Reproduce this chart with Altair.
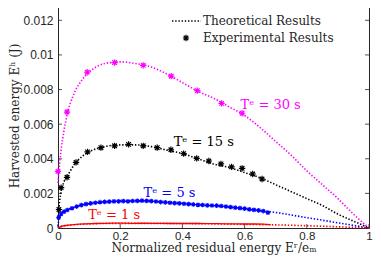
import altair as alt
import pandas as pd

# ---------------- data ----------------
# Theoretical curves (x = normalized residual energy, y = harvested energy in J)
th30_x = [0.0, 0.005, 0.01, 0.02, 0.03, 0.05, 0.075, 0.1, 0.15, 0.2, 0.25, 0.3, 0.35, 0.4, 0.45, 0.5, 0.55, 0.6, 0.65, 0.7, 0.75, 0.8, 0.85, 0.9, 0.95, 1.0]
th30_y = [0.0026, 0.0037, 0.0045, 0.0057, 0.0066, 0.0077, 0.0085, 0.0090, 0.0095, 0.0096, 0.0095, 0.0093, 0.0089, 0.0084, 0.0079, 0.0075, 0.0070, 0.0065, 0.0058, 0.0050, 0.0042, 0.0033, 0.0025, 0.0017, 0.0008, 0.0]

th15_x = [0.0, 0.005, 0.01, 0.02, 0.03, 0.05, 0.075, 0.1, 0.15, 0.2, 0.25, 0.3, 0.35, 0.4, 0.45, 0.5, 0.55, 0.6, 0.65, 0.7, 0.75, 0.8, 0.85, 0.9, 0.95, 1.0]
th15_y = [0.0005, 0.0015, 0.0021, 0.0027, 0.0030, 0.0036, 0.0041, 0.0044, 0.0047, 0.0048, 0.0048, 0.0047, 0.0045, 0.0043, 0.0040, 0.0037, 0.0035, 0.0032, 0.0029, 0.0025, 0.0021, 0.0017, 0.0013, 0.0008, 0.0004, 0.0]

th5_x = [0.0, 0.002, 0.005, 0.01, 0.02, 0.03, 0.05, 0.075, 0.1, 0.15, 0.2, 0.25, 0.3, 0.35, 0.4, 0.45, 0.5, 0.55, 0.6, 0.65, 0.7, 0.75, 0.8, 0.85, 0.9, 0.95, 1.0]
th5_y = [0.0001, 0.0004, 0.0006, 0.0008, 0.00095, 0.00105, 0.0012, 0.00133, 0.0014, 0.0015, 0.00155, 0.00157, 0.00155, 0.0015, 0.00143, 0.00135, 0.00128, 0.0012, 0.0011, 0.0010, 0.0009, 0.00075, 0.0006, 0.00045, 0.0003, 0.00015, 0.0]

th1_x = [0.0, 0.01, 0.03, 0.06, 0.1, 0.2, 0.3, 0.4, 0.5, 0.6, 0.7, 0.8, 0.9, 1.0]
th1_y = [0.0, 0.0001, 0.00015, 0.0002, 0.00024, 0.00027, 0.00027, 0.00026, 0.00024, 0.00021, 0.00018, 0.00013, 0.00007, 0.0]

# Experimental results
ex30_x = [0.0, 0.029, 0.094, 0.182, 0.274, 0.364, 0.448, 0.526, 0.592]
ex30_y = [0.00327, 0.0067, 0.0090, 0.00956, 0.0094, 0.00877, 0.00794, 0.0072, 0.00663]

ex15_x = [0.003, 0.01, 0.029, 0.058, 0.095, 0.138, 0.182, 0.227, 0.274, 0.319, 0.363, 0.404, 0.446, 0.485, 0.524, 0.558, 0.592, 0.626, 0.656]
ex15_y = [0.00107, 0.00233, 0.00293, 0.00379, 0.0044, 0.00464, 0.00475, 0.00483, 0.00475, 0.00464, 0.00452, 0.0043, 0.00402, 0.00387, 0.0037, 0.00353, 0.00345, 0.00312, 0.00283]

ex5_x = [0.002, 0.01, 0.02, 0.03, 0.045, 0.06, 0.075, 0.09, 0.105, 0.12, 0.135, 0.15, 0.165, 0.18, 0.195, 0.21, 0.225, 0.24, 0.255, 0.27, 0.285, 0.3, 0.315, 0.33, 0.345, 0.36, 0.375, 0.39, 0.405, 0.42, 0.435, 0.45, 0.465, 0.48, 0.495, 0.51, 0.525, 0.54, 0.555, 0.57, 0.585, 0.6, 0.615, 0.63, 0.645, 0.66, 0.675]
ex5_y = [0.0006, 0.00082, 0.00095, 0.00104, 0.00114, 0.00124, 0.00132, 0.00138, 0.00142, 0.00146, 0.00149, 0.00151, 0.00152, 0.00154, 0.00154, 0.00155, 0.00154, 0.00156, 0.00157, 0.00158, 0.00157, 0.00155, 0.00153, 0.0015, 0.00148, 0.00146, 0.00144, 0.00142, 0.0014, 0.00138, 0.00136, 0.00134, 0.00133, 0.00131, 0.0013, 0.00129, 0.00127, 0.00124, 0.00121, 0.00118, 0.00115, 0.00112, 0.00108, 0.00105, 0.00102, 0.00098, 0.00089]

ex1_x = [0.002, 0.01, 0.02, 0.035, 0.05, 0.07, 0.09, 0.12, 0.15, 0.18, 0.21, 0.24, 0.27, 0.3, 0.33, 0.36, 0.39, 0.42, 0.45, 0.48, 0.51, 0.54, 0.57, 0.6, 0.63, 0.66, 0.684]
ex1_y = [0.00004, 0.00009, 0.00013, 0.00017, 0.0002, 0.00022, 0.00024, 0.00026, 0.00027, 0.00028, 0.00028, 0.00027, 0.00028, 0.00027, 0.00027, 0.00026, 0.00027, 0.00026, 0.00026, 0.00025, 0.00025, 0.00024, 0.00024, 0.00023, 0.00023, 0.00022, 0.0002]

series_names = ["30", "15", "5", "1"]
series_colors = ["#FF00FF", "#000000", "#0000FF", "#FF0000"]

labels_text = ["Tᵉ = 30 s", "Tᵉ = 15 s", "Tᵉ = 5 s", "Tᵉ = 1 s"]
labels_x = [0.587, 0.372, 0.275, 0.097]
labels_y = [0.0071, 0.00496, 0.00203, 0.00073]

x_ticks = [0, 0.2, 0.4, 0.6, 0.8, 1]
y_ticks = [0, 0.002, 0.004, 0.006, 0.008, 0.01, 0.012]

legend_labels = ["Theoretical Results", "Experimental Results"]

# ---------------- layout ----------------
W, H = 311, 225
FRAME = "#262626"
SERIF = "DejaVu Serif"
STAR = "M-1,0L1,0M0,-1L0,1M-0.72,-0.72L0.72,0.72M-0.72,0.72L0.72,-0.72"

xs = alt.Scale(domain=[0, 1], nice=False, zero=False)
ys = alt.Scale(domain=[0, 0.013], nice=False, zero=False)

AX = alt.Axis(
    values=x_ticks, format="~g", title="Normalized residual energy Eʳ/eₘ",
    domain=False, ticks=False, grid=False, labelFont="Liberation Sans",
    labelFontSize=11.5, labelColor=FRAME, labelPadding=2,
    labelFlush=False, labelOverlap=False,
    titleFont=SERIF, titleFontSize=12, titleFontWeight="normal",
    titleColor=FRAME, titlePadding=1)
AY = alt.Axis(
    values=y_ticks, format="~g", title="Harvested energy Eʰ (J)",
    domain=False, ticks=False, grid=False, labelFont="Liberation Sans",
    labelFontSize=12, labelColor=FRAME, labelPadding=5,
    labelFlush=False, labelOverlap=False,
    titleFont=SERIF, titleFontSize=12, titleFontWeight="normal",
    titleColor=FRAME, titlePadding=1)

def df(xv, yv):
    return pd.DataFrame({"x": xv, "y": yv})

X = alt.X("x:Q", scale=xs, axis=AX)
Y = alt.Y("y:Q", scale=ys, axis=AY)

layers = []

# inward ticks
tx = pd.DataFrame({"x": x_ticks})
ty = pd.DataFrame({"y": y_ticks})
layers.append(alt.Chart(tx).mark_rule(color=FRAME, strokeWidth=0.8).encode(x=X, y=alt.value(H), y2=alt.value(H - 4)))
layers.append(alt.Chart(tx).mark_rule(color=FRAME, strokeWidth=0.8).encode(x=X, y=alt.value(0), y2=alt.value(4)))
layers.append(alt.Chart(ty).mark_rule(color=FRAME, strokeWidth=0.8).encode(y=Y, x=alt.value(0), x2=alt.value(4)))
layers.append(alt.Chart(ty).mark_rule(color=FRAME, strokeWidth=0.8).encode(y=Y, x=alt.value(W), x2=alt.value(W - 4)))

th = [(th30_x, th30_y), (th15_x, th15_y), (th5_x, th5_y), (th1_x, th1_y)]
ex = [(ex30_x, ex30_y), (ex15_x, ex15_y), (ex5_x, ex5_y), (ex1_x, ex1_y)]

for i, (name, col) in enumerate(zip(series_names, series_colors)):
    tx_, ty_ = th[i]
    layers.append(alt.Chart(df(tx_, ty_)).mark_line(
        color=col, strokeWidth=1.6, strokeDash=[1.4, 1.8], interpolate="monotone").encode(x=X, y=Y))

# experimental
ex30 = alt.Chart(df(*ex[0])).mark_point(shape=STAR, filled=False, color=series_colors[0], size=40, strokeWidth=1.2, opacity=1).encode(x=X, y=Y)
ex15 = alt.Chart(df(*ex[1])).mark_point(shape=STAR, filled=False, color=series_colors[1], size=40, strokeWidth=1.2, opacity=1).encode(x=X, y=Y)
ex5_line = alt.Chart(df(*ex[2])).mark_line(color=series_colors[2], strokeWidth=1.2).encode(x=X, y=Y)
ex5 = alt.Chart(df(*ex[2])).mark_point(shape=STAR, filled=False, color=series_colors[2], size=22, strokeWidth=1.1, opacity=1).encode(x=X, y=Y)
ex1_line = alt.Chart(df(*ex[3])).mark_line(color=series_colors[3], strokeWidth=1.3).encode(x=X, y=Y)
layers += [ex30, ex15, ex5_line, ex5, ex1_line]

# annotations
for t, lx, ly, col in zip(labels_text, labels_x, labels_y, series_colors):
    layers.append(alt.Chart(pd.DataFrame({"x": [lx], "y": [ly], "t": [t]})).mark_text(
        align="left", baseline="middle", font=SERIF, fontSize=13, color=col).encode(x=X, y=Y, text="t:N"))

# legend
leg_line = alt.Chart(pd.DataFrame({"a": [0]})).mark_rule(color="black", strokeWidth=1.6, strokeDash=[1.4, 1.8]).encode(
    x=alt.value(114), x2=alt.value(143), y=alt.value(18))
leg_star = alt.Chart(pd.DataFrame({"a": [0]})).mark_point(shape=STAR, filled=False, color="black", size=40, strokeWidth=1.2, opacity=1).encode(
    x=alt.value(128), y=alt.value(35))
leg_t1 = alt.Chart(pd.DataFrame({"t": [legend_labels[0]]})).mark_text(
    align="left", baseline="middle", font=SERIF, fontSize=12, color=FRAME).encode(x=alt.value(145), y=alt.value(18), text="t:N")
leg_t2 = alt.Chart(pd.DataFrame({"t": [legend_labels[1]]})).mark_text(
    align="left", baseline="middle", font=SERIF, fontSize=12, color=FRAME).encode(x=alt.value(145), y=alt.value(35), text="t:N")
layers += [leg_line, leg_star, leg_t1, leg_t2]

chart = alt.layer(*layers).properties(
    width=W, height=H,
    autosize=alt.AutoSizeParams(type="none"),
    padding={"left": 50, "top": -5, "right": 4, "bottom": 28},
    background="white",
).configure_view(stroke=FRAME, strokeWidth=1)

chart.save("out.html", embed_options={"renderer": "svg", "actions": False})
